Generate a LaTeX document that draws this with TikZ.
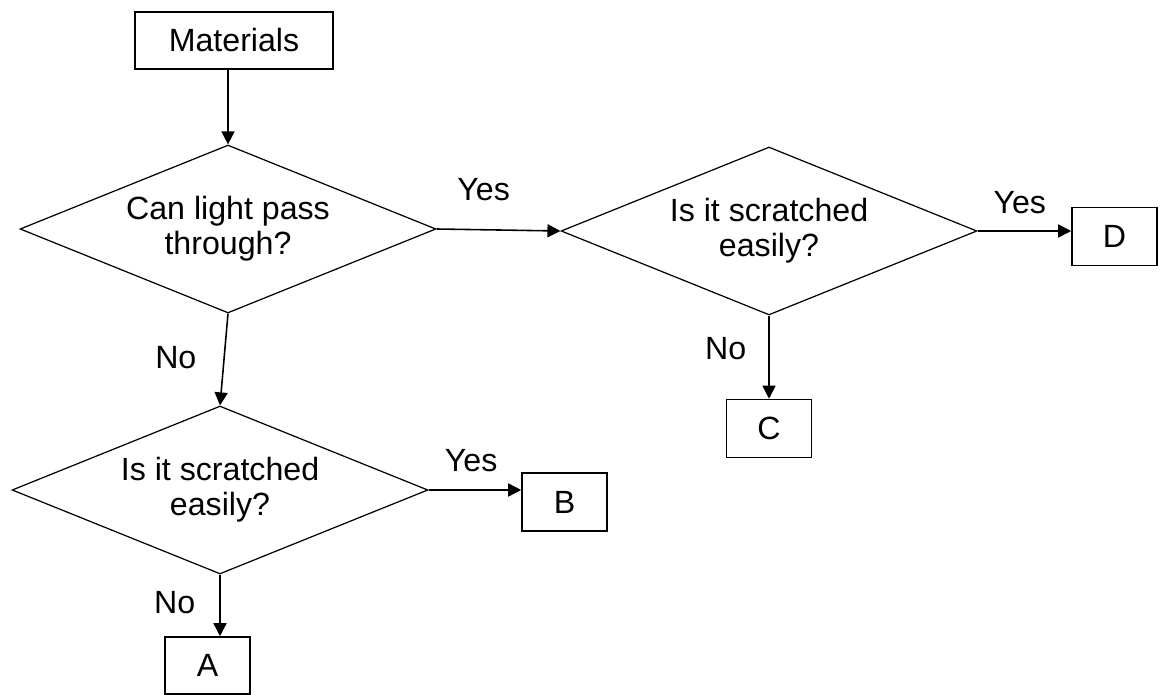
\documentclass[tikz,border=0pt]{standalone}
\usepackage{fontspec}
\setmainfont{Liberation Sans}
\usetikzlibrary{shapes.geometric,arrows.meta}
\begin{document}
\begin{tikzpicture}[x=0.02cm, y=-0.02cm, line width=0.9pt, >={Triangle[length=2.6mm,width=2.6mm]},
            question node/.style={diamond,draw,aspect=2.48,inner sep=0pt,minimum width=8.32cm,minimum height=3.36cm,align=center,line width=0.7pt,font=\fontsize{18.3}{20}\selectfont},
            box node/.style={rectangle,draw,inner sep=0pt,minimum width=1.7cm,minimum height=1.16cm,font=\fontsize{18.3}{20}\selectfont},
            answer/.style={inner sep=0pt,font=\fontsize{18.3}{20}\selectfont}]
            \useasboundingbox (0,0) rectangle (1165,695);
            \node[box node, minimum width=3.96cm, minimum height=1.14cm] (m) at (234,40.5) {Materials};
            \node[question node] (q1) at (228,229) {Can light pass\\through?};
            \node[question node] (q2) at (769,231) {Is it scratched\\easily?};
            \node[question node] (q3) at (220,490) {Is it scratched\\easily?};
            \node[box node] (D) at (1114.5,236.5) {D};
            \node[box node] (C) at (769,428.5) {C};
            \node[box node] (B) at (564.5,502) {B};
            \node[box node, minimum height=1.14cm] (A) at (207.5,665.5) {A};
            \path[->] (m.south -| q1.north) edge (q1.north);
            \path[->] (q1.east) edge node[answer,pos=.38,above=5.6mm] {Yes} (q2.west);
            \path[->] (q1.south) edge node[answer,pos=.48,left=5.4mm] {No} (q3.north);
            \path[->] (q2.east) edge node[answer,pos=.45,above=3.2mm] {Yes} (q2.east -| D.west);
            \path[->] (q2.south) edge node[answer,pos=.4,left=4.4mm] {No} (C.north);
            \path[->] (q3.east) edge node[answer,pos=.46,above=3.4mm] {Yes} (q3.east -| B.west);
            \path[->] (q3.south) edge node[answer,pos=.45,left=4.8mm] {No} (q3.south |- A.north);
        \end{tikzpicture}
\end{document}
